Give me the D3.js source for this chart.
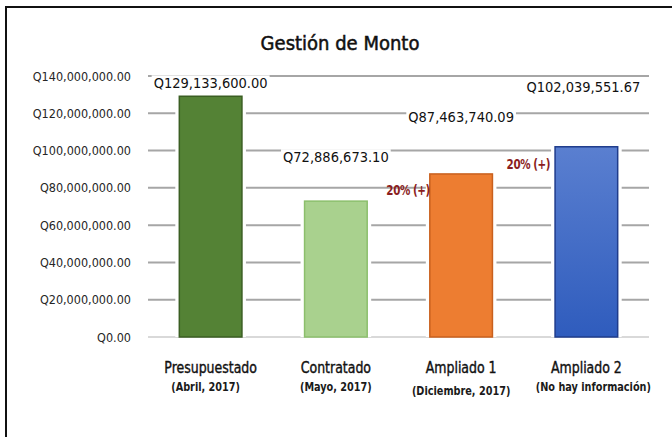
<!DOCTYPE html>
<html>
<head>
<meta charset="utf-8">
<script src="https://cdn.jsdelivr.net/npm/d3@7"></script>
<style>
  html, body { margin: 0; padding: 0; background: #fff; }
  svg { display: block; }
</style>
</head>
<body>
<div id="chart"></div>
<script>
// Gestión de Monto - bar chart

const categories = ['Presupuestado', 'Contratado', 'Ampliado 1', 'Ampliado 2'];
const subtitles = ['(Abril, 2017)', '(Mayo, 2017)', '(Diciembre, 2017)', '(No hay información)'];
const montos = [129133600.00, 72886673.10, 87463740.09, 102039551.67];
const montoLabels = ['Q129,133,600.00', 'Q72,886,673.10', 'Q87,463,740.09', 'Q102,039,551.67'];
const yTicks = [0, 20000000, 40000000, 60000000, 80000000, 100000000, 120000000, 140000000];
const incrementos = [null, null, '20% (+)', '20% (+)'];

const width = 672, height = 437;
const font = '"DejaVu Sans Condensed", "Liberation Sans Narrow", "Open Sans", sans-serif';

const svg = d3.select('#chart').append('svg')
    .attr('width', width)
    .attr('height', height);

// gradient for the last bar
const defs = svg.append('defs');
const grad = defs.append('linearGradient')
    .attr('id', 'blue-grad')
    .attr('x1', 0).attr('y1', 0).attr('x2', 0).attr('y2', 1);
grad.append('stop').attr('offset', '0%').attr('stop-color', '#5a7fd0');
grad.append('stop').attr('offset', '100%').attr('stop-color', '#2f5cbd');

const fills = ['#548235', '#a9d18e', '#ed7d31', 'url(#blue-grad)'];
const strokes = ['#3a5e22', '#8cbf6c', '#c9601e', '#1f3c8c'];

// frame (right and bottom sides fall outside the picture)
svg.append('rect')
    .attr('x', 6).attr('y', 7)
    .attr('width', 700).attr('height', 460)
    .attr('fill', 'none')
    .attr('stroke', '#111')
    .attr('stroke-width', 2);

const margin = { left: 148, right: 23, top: 76, bottom: 100 };

const x = d3.scaleBand()
    .domain(categories)
    .range([margin.left, width - margin.right])
    .paddingInner(0.5)
    .paddingOuter(0.25);

const y = d3.scaleLinear()
    .domain([0, 140000000])
    .range([337, 76]);

// title
svg.append('text')
    .attr('x', 340)
    .attr('y', 50)
    .attr('text-anchor', 'middle')
    .attr('font-family', font)
    .attr('font-size', 20)
    .attr('fill', '#111')
    .attr('stroke', '#111')
    .attr('stroke-width', 0.5)
    .text('Gestión de Monto');

// gridlines
svg.append('g')
    .selectAll('line')
    .data(yTicks)
    .enter().append('line')
    .attr('x1', margin.left)
    .attr('x2', width - margin.right)
    .attr('y1', d => y(d))
    .attr('y2', d => y(d))
    .attr('stroke', d => d === 0 ? '#d9d9d9' : '#a6a6a6')
    .attr('stroke-width', 2);

// y axis labels
const yAxis = d3.axisLeft(y)
    .tickValues(yTicks)
    .tickSize(0)
    .tickPadding(0)
    .tickFormat(d => 'Q' + d3.format(',.2f')(d));

const yg = svg.append('g')
    .attr('transform', 'translate(131,0)')
    .call(yAxis);
yg.select('.domain').remove();
yg.selectAll('text')
    .attr('font-family', font)
    .attr('font-size', 12.5)
    .attr('fill', '#262626');

// bars, with a thin white halo that cuts the gridlines
const bars = svg.append('g')
    .selectAll('g')
    .data(montos)
    .enter().append('g');

bars.append('rect')
    .attr('x', (d, i) => x(categories[i]) - 4)
    .attr('y', d => y(d) - 3)
    .attr('width', x.bandwidth() + 8)
    .attr('height', d => y(0) - y(d) + 3)
    .attr('fill', '#fff');

bars.append('rect')
    .attr('x', (d, i) => x(categories[i]))
    .attr('y', d => y(d))
    .attr('width', x.bandwidth())
    .attr('height', d => y(0) - y(d))
    .attr('fill', (d, i) => fills[i])
    .attr('stroke', (d, i) => strokes[i])
    .attr('stroke-width', 1.5);

// value labels (manually lifted above each bar, as in the original)
const labelLift = [13, 44, 57, 60];
const labels = svg.append('g')
    .selectAll('g')
    .data(montos)
    .enter().append('g')
    .attr('transform', (d, i) =>
        `translate(${x(categories[i]) + x.bandwidth() / 2 + (i === 3 ? -3 : 0)},${y(d) - labelLift[i]})`);

labels.append('text')
    .attr('text-anchor', 'middle')
    .attr('dy', '0.35em')
    .attr('font-family', font)
    .attr('font-size', 14.5)
    .attr('fill', '#111')
    .text((d, i) => montoLabels[i])
    .each(function () {
        const b = this.getBBox();
        d3.select(this.parentNode).insert('rect', 'text')
            .attr('x', b.x - 2)
            .attr('y', b.y)
            .attr('width', b.width + 4)
            .attr('height', b.height)
            .attr('fill', '#fff');
    });

// increment notes (narrowed to look like the original condensed face)
const incOffset = [null, null, { dx: -53, dy: 21 }, { dx: -58, dy: 22 }];
svg.append('g')
    .selectAll('text')
    .data(incrementos.map((t, i) => ({ t, i })).filter(d => d.t))
    .enter().append('text')
    .attr('transform', d =>
        `translate(${x(categories[d.i]) + incOffset[d.i].dx + x.bandwidth() / 2},${y(montos[d.i]) + incOffset[d.i].dy}) scale(0.82,1)`)
    .attr('text-anchor', 'middle')
    .attr('font-family', font)
    .attr('font-size', 14)
    .attr('font-weight', 'bold')
    .attr('letter-spacing', -0.5)
    .attr('fill', '#8b1e1e')
    .text(d => d.t);

// category labels
const cats = svg.append('g')
    .selectAll('g')
    .data(categories)
    .enter().append('g')
    .attr('transform', d => `translate(${x(d) + x.bandwidth() / 2},0)`);

cats.append('text')
    .attr('transform', 'translate(0,373) scale(0.87,1)')
    .attr('text-anchor', 'middle')
    .attr('font-family', font)
    .attr('font-size', 16)
    .attr('fill', '#111')
    .attr('stroke', '#111')
    .attr('stroke-width', 0.4)
    .text(d => d);

cats.append('text')
    .attr('transform', (d, i) =>
        `translate(${i === 3 ? 7 : (i === 0 ? -5 : 0)},${i === 2 ? 395 : 391}) scale(0.9,1)`)
    .attr('text-anchor', 'middle')
    .attr('font-family', font)
    .attr('font-size', 12)
    .attr('font-weight', 'bold')
    .attr('fill', '#1a1a1a')
    .text((d, i) => subtitles[i]);
</script>
</body>
</html>
